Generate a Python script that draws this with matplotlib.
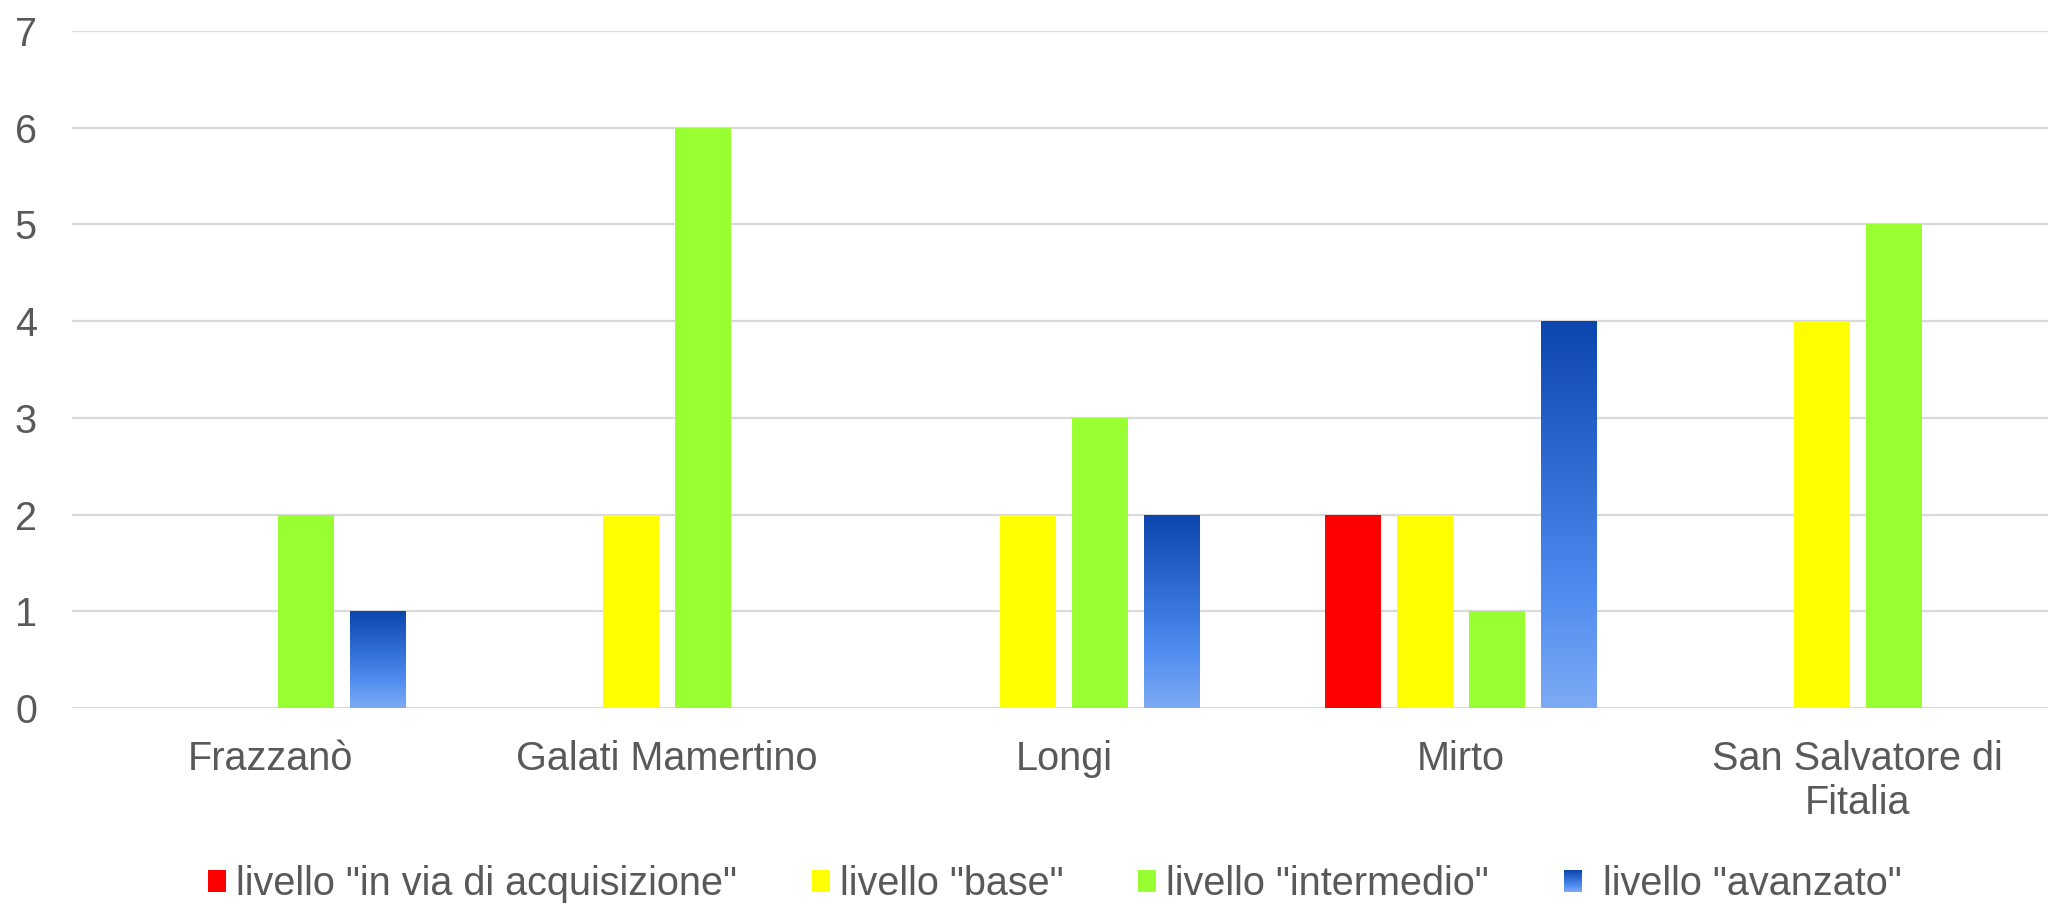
import matplotlib
matplotlib.use("Agg")
import matplotlib.pyplot as plt
import numpy as np
from matplotlib.colors import LinearSegmentedColormap
from matplotlib.patches import Patch
from matplotlib.legend_handler import HandlerBase
from matplotlib.image import BboxImage
from matplotlib.transforms import Bbox, TransformedBbox

plt.rcParams['font.family'] = ['Liberation Sans', 'DejaVu Sans']

comuni = ["Frazzanò", "Galati Mamertino", "Longi", "Mirto", "San Salvatore di\nFitalia"]
serie = ['livello "in via di acquisizione"', 'livello "base"',
         'livello "intermedio"', ' livello "avanzato"']
in_via = [0, 0, 0, 2, 0]
base = [0, 2, 2, 2, 4]
intermedio = [2, 6, 3, 1, 5]
avanzato = [1, 0, 2, 4, 0]
valori = [in_via, base, intermedio, avanzato]
colori = ["#FF0000", "#FFFF00", "#99FF33", "#3370DC"]

blu = LinearSegmentedColormap.from_list(
    "blu", [(0.0, "#7EAAF4"), (0.3, "#4E8CF0"), (1.0, "#0B45AE")])
grad = np.linspace(0, 1, 256).reshape(-1, 1)


class HandlerGradiente(HandlerBase):
    # quadratino della legenda con la sfumatura blu
    def create_artists(self, legend, orig_handle, xdescent, ydescent,
                       width, height, fontsize, trans):
        bb = TransformedBbox(Bbox.from_bounds(-xdescent, -ydescent, width, height), trans)
        img = BboxImage(bb, cmap=blu, origin="lower", interpolation="bilinear")
        img.set_data(grad)
        img.set_clim(0, 1)
        return [img]


fig = plt.figure(figsize=(20.48, 9.05), dpi=100)
ax = fig.add_axes([0.035, 0.2177, 0.969, 0.748])

x = np.arange(len(comuni))
step = 0.181
w = 0.141
for i, vals in enumerate(valori):
    bars = ax.bar(x + (i - 1.5) * step, vals, w, color=colori[i], zorder=3)
    if i == 3:
        for b in bars:
            h = b.get_height()
            if h <= 0:
                continue
            b.set_facecolor("none")
            b.set_edgecolor("none")
            im = ax.imshow(grad, cmap=blu, origin="lower", aspect="auto",
                           extent=(b.get_x(), b.get_x() + b.get_width(), 0, h),
                           zorder=3)
            im.set_clip_path(b)

ax.set_xlim(-0.5, 4.5)
ax.set_ylim(0, 7)
ax.set_yticks(range(8))
ax.set_xticks(x)
ax.set_xticklabels(comuni)
ax.grid(axis="y", color="#D9D9D9", linewidth=1.6, zorder=0)
ax.set_axisbelow(True)
for s in ax.spines.values():
    s.set_visible(False)
ax.tick_params(axis="both", length=0, labelsize=28.5, labelcolor="#595959")
ax.tick_params(axis="y", pad=25)
ax.tick_params(axis="x", pad=23)

handles = [Patch(facecolor=c, edgecolor="none") for c in colori]
fig.legend(handles, serie, loc="center", bbox_to_anchor=(0.515, 0.023), ncol=4,
           frameon=False, fontsize=28.5, labelcolor="#595959",
           handlelength=0.45, handleheight=0.45, handletextpad=0.25,
           columnspacing=1.9, borderpad=0.2,
           handler_map={handles[3]: HandlerGradiente()})

fig.savefig("out.png", dpi=100)
